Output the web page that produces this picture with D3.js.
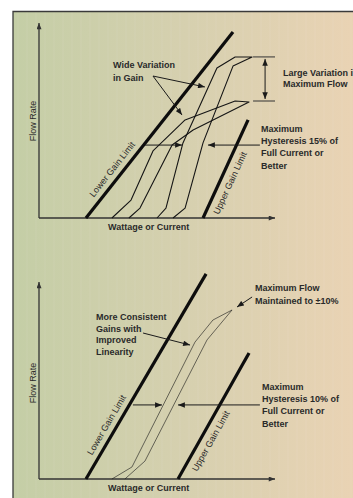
<!DOCTYPE html>
<html>
<head>
<meta charset="utf-8">
<style>
html, body { margin: 0; padding: 0; background: #fff; }
svg { display: block; }
text { font-family: "Liberation Sans", Arial, Helvetica, sans-serif; font-size: 9px; font-weight: bold; fill: #2a2a2a; }
</style>
</head>
<body>
<script src="https://d3js.org/d3.v7.min.js"></script>
<script>
// data units: x = wattage 0-100, y = flow 0-100
var lowerLimitTop = [[19.9, 0], [82.2, 95.4]];
var upperLimitTop = [[69.5, 0], [88.6, 50.3]];
var steepLoop = [[50.0, 0], [53.8, 5.1], [61.0, 38.5], [75.4, 76.9], [83.1, 82.6],
                 [90.3, 82.6], [82.2, 77.9], [69.5, 38.5], [61.9, 5.1], [56.8, 0]];
var shallowLoop = [[30.9, 0], [39.0, 9.2], [48.3, 34.4], [61.9, 50.3], [83.1, 60.0],
                   [89.0, 59.5], [65.3, 45.1], [56.4, 37.4], [42.8, 5.1], [38.1, 0]];
var maxFlowLevels = [82.6, 60.0];

var lowerLimitBot = [[19.9, 0], [70.8, 104.1]];
var upperLimitBot = [[58.9, 0], [89.0, 64.0]];
var tightLoop = [[30.9, 0], [39.4, 6.1], [66.1, 69.5], [73.7, 80.7], [81.8, 85.8],
                 [71.2, 70.6], [44.9, 9.1], [36.4, 0]];

// annotation arrows [from, to]
var arrowsTop = [
  [[48.3, 72.8], [70.3, 67.2]],
  [[48.3, 72.8], [60.6, 52.8]],
  [[44.9, 37.4], [60.6, 37.4]],
  [[93.6, 37.4], [71.6, 37.4]]
];
var arrowsBot = [
  [[44.1, 74.1], [64.0, 68.0]],
  [[39.8, 37.6], [52.1, 37.6]],
  [[93.6, 37.6], [58.9, 37.6]],
  [[90.3, 92.4], [83.9, 87.3]]
];

var notesTop = [
  {x: 113, y: 68, lines: ['Wide Variation', 'in Gain'], step: 12.5},
  {x: 283, y: 75.5, lines: ['Large Variation in', 'Maximum Flow'], step: 11},
  {x: 261, y: 132, lines: ['Maximum', 'Hysteresis  15% of', 'Full Current or', 'Better'], step: 12.2}
];
var notesBot = [
  {x: 96, y: 320, lines: ['More Consistent', 'Gains with', 'Improved', 'Linearity'], step: 11.7},
  {x: 255, y: 291, lines: ['Maximum Flow', 'Maintained to \u00b110%'], step: 12.5},
  {x: 262, y: 390, lines: ['Maximum', 'Hysteresis  10% of', 'Full Current or', 'Better'], step: 12.2}
];

var W = 353, H = 498;

var svg = d3.select('body').append('svg')
    .attr('width', W)
    .attr('height', H);

var defs = svg.append('defs');
var grad = defs.append('linearGradient').attr('id', 'bg').attr('x1', 0).attr('x2', 1).attr('y1', 0).attr('y2', 0);
grad.append('stop').attr('offset', '0%').attr('stop-color', '#c4cea6');
grad.append('stop').attr('offset', '50%').attr('stop-color', '#d6d0af');
grad.append('stop').attr('offset', '100%').attr('stop-color', '#ead3b4');

defs.append('marker').attr('id', 'head')
    .attr('viewBox', '0 0 10 8').attr('refX', 10).attr('refY', 4)
    .attr('markerUnits', 'userSpaceOnUse')
    .attr('markerWidth', 8).attr('markerHeight', 5.5)
    .attr('orient', 'auto-start-reverse')
  .append('path').attr('d', 'M0,0L10,4L0,8Z').attr('fill', '#1a1a1a');

defs.append('marker').attr('id', 'axhead')
    .attr('viewBox', '0 0 10 8').attr('refX', 10).attr('refY', 4)
    .attr('markerUnits', 'userSpaceOnUse')
    .attr('markerWidth', 10).attr('markerHeight', 5)
    .attr('orient', 'auto')
  .append('path').attr('d', 'M0,0L10,4L0,8Z').attr('fill', '#333');

// background panel
svg.append('rect').attr('x', 13).attr('y', 11.5).attr('width', W - 13 + 5).attr('height', H - 11.5 + 5)
    .attr('fill', 'url(#bg)');
svg.selectAll('.stripe').data(d3.range(18, W, 9)).enter().append('line')
    .attr('class', 'stripe')
    .attr('x1', function(d) { return d; }).attr('x2', function(d) { return d; })
    .attr('y1', 12).attr('y2', H)
    .attr('stroke', '#fff').attr('stroke-opacity', 0.08).attr('stroke-width', 1);
svg.append('path').attr('d', 'M13,' + H + 'V11.5H' + (W + 2))
    .attr('fill', 'none').attr('stroke', '#3a3a3a').attr('stroke-width', 1.3);

var x = d3.scaleLinear().domain([0, 100]).range([39, 275]);
var yTop = d3.scaleLinear().domain([0, 100]).range([218, 23]);
var yBot = d3.scaleLinear().domain([0, 100]).range([479, 282]);

function drawPanel(y, cfg) {
  var g = svg.append('g');
  var line = d3.line().x(function(d) { return x(d[0]); }).y(function(d) { return y(d[1]); });

  // axes
  g.append('line').attr('x1', x(0)).attr('y1', y(0)).attr('x2', x(0)).attr('y2', y(100))
      .attr('stroke', '#333').attr('stroke-width', 1.3).attr('marker-end', 'url(#axhead)');
  g.append('line').attr('x1', x(0)).attr('y1', y(0)).attr('x2', x(100)).attr('y2', y(0))
      .attr('stroke', '#333').attr('stroke-width', 1.6).attr('marker-end', 'url(#axhead)');

  g.append('text').attr('transform', 'translate(35.5,' + cfg.flowY + ') rotate(-90)')
      .attr('text-anchor', 'middle').style('font-weight', 'normal').text('Flow Rate');
  g.append('text').attr('x', 108).attr('y', y(0) + 12).text('Wattage or Current');

  // curves
  cfg.loops.forEach(function(l) {
    g.append('path').attr('d', line(l)).attr('fill', 'none')
        .attr('stroke', '#151515').attr('stroke-width', cfg.curveW).attr('stroke-linejoin', 'round');
  });

  // gain limits
  [cfg.lower, cfg.upper].forEach(function(l) {
    g.append('path').attr('d', line(l)).attr('stroke', '#0d0d0d').attr('stroke-width', 3.2);
  });
  label(g, y, cfg.lower, cfg.lowerFrac, -6.5, 'Lower Gain Limit');
  label(g, y, cfg.upper, cfg.upperFrac, 13, 'Upper Gain Limit');

  cfg.arrows.forEach(function(a) {
    g.append('path').attr('d', line(a)).attr('stroke', '#1a1a1a').attr('stroke-width', 1)
        .attr('marker-end', 'url(#head)');
  });

  cfg.notes.forEach(function(n) {
    var t = g.append('text').attr('x', n.x).attr('y', n.y);
    n.lines.forEach(function(s, i) {
      t.append('tspan').attr('x', n.x).attr('dy', i ? n.step : 0).text(s);
    });
  });
  return g;
}

function label(g, y, pts, frac, dy, txt) {
  var x0 = x(pts[0][0]), y0 = y(pts[0][1]), x1 = x(pts[1][0]), y1 = y(pts[1][1]);
  var ang = Math.atan2(y1 - y0, x1 - x0) * 180 / Math.PI;
  g.append('text')
      .attr('transform', 'translate(' + (x0 + (x1 - x0) * frac) + ',' + (y0 + (y1 - y0) * frac) + ') rotate(' + ang + ')')
      .attr('text-anchor', 'middle').attr('dy', dy)
      .style('font-weight', 'normal').text(txt);
}

var gTop = drawPanel(yTop, {
  flowY: 121, loops: [shallowLoop, steepLoop], curveW: 1.1,
  lower: lowerLimitTop, upper: upperLimitTop, lowerFrac: 0.23, upperFrac: 0.40,
  arrows: arrowsTop, notes: notesTop
});

// max flow spread markers
maxFlowLevels.forEach(function(v) {
  gTop.append('line').attr('x1', x(90.7)).attr('x2', x(100)).attr('y1', yTop(v)).attr('y2', yTop(v))
      .attr('stroke', '#333').attr('stroke-width', 1);
});
gTop.append('line').attr('x1', x(95.8)).attr('x2', x(95.8))
    .attr('y1', yTop(maxFlowLevels[0]) + 2).attr('y2', yTop(maxFlowLevels[1]) - 2)
    .attr('stroke', '#1a1a1a').attr('stroke-width', 1)
    .attr('marker-start', 'url(#head)').attr('marker-end', 'url(#head)');

drawPanel(yBot, {
  flowY: 383, loops: [tightLoop], curveW: 0.6,
  lower: lowerLimitBot, upper: upperLimitBot, lowerFrac: 0.24, upperFrac: 0.34,
  arrows: arrowsBot, notes: notesBot
});
</script>
</body>
</html>
